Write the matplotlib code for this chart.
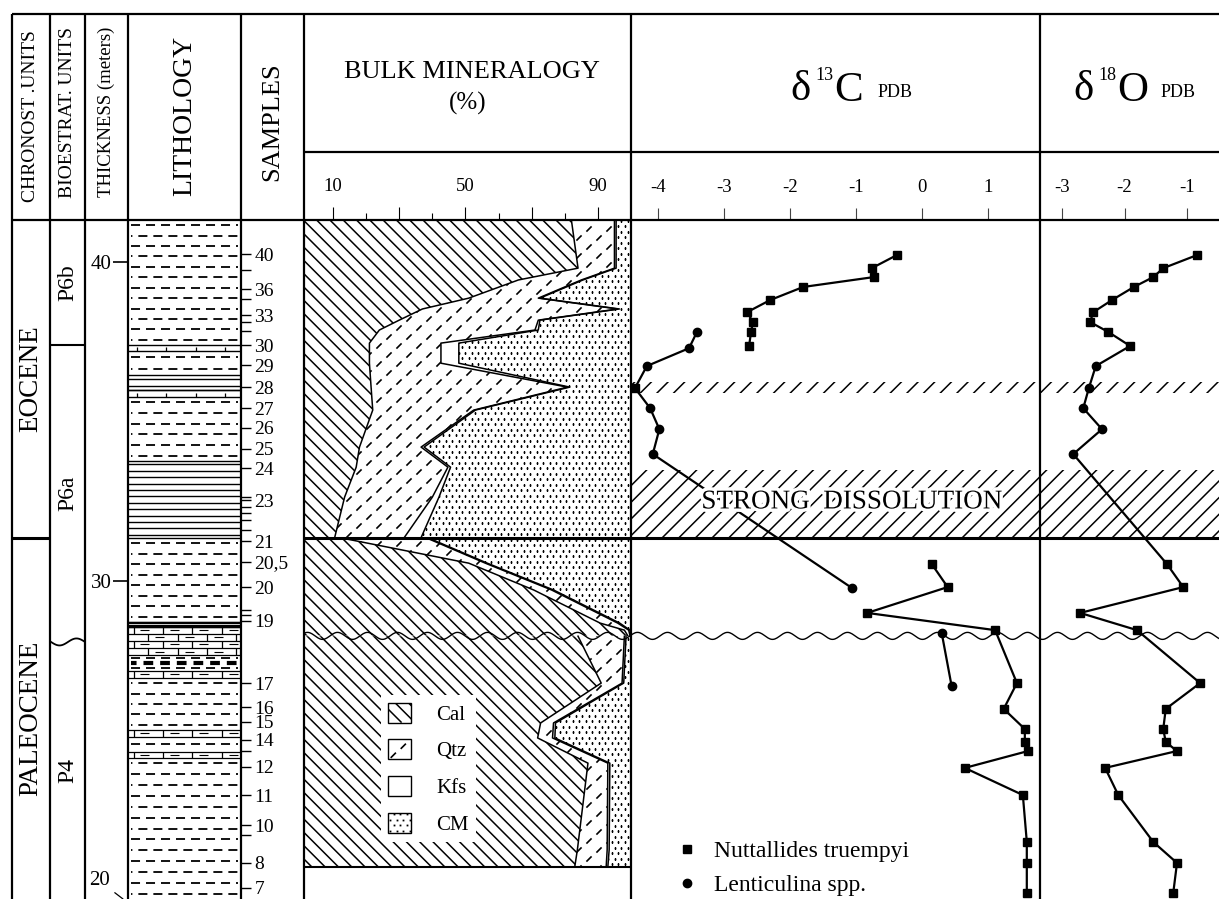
import numpy as np
import matplotlib.pyplot as plt
import matplotlib.patheffects as pe
from matplotlib.collections import LineCollection
from matplotlib.lines import Line2D
from matplotlib.patches import Patch
from matplotlib.path import Path
from matplotlib.transforms import IdentityTransform, blended_transform_factory

plt.rcParams['font.family'] = ['Liberation Serif', 'DejaVu Serif']
plt.rcParams['axes.unicode_minus'] = False
plt.rcParams['lines.scale_dashes'] = False
plt.rcParams['hatch.linewidth'] = 1.1

# depth axis (m): top of log and bottom edge of the sheet
TOP, BOT = 41.32, 20.03
PXM = 31.9  # pixels per metre on the sheet

# units
chron_names = ['EOCENE', 'PALEOCENE']
chron_tops = [41.32, 31.35]
chron_bases = [31.35, 20.03]
bio_names = ['P6b', 'P6a', 'P4']
bio_tops = [41.32, 37.40, 28.09]
bio_bases = [37.40, 28.09, 20.03]
unconformity = 28.28
thick_ticks = [40, 30]

# samples
sample_depth = [40.25, 39.75, 39.15, 38.84, 38.34, 38.12, 37.84, 37.40, 36.77, 36.08,
                35.42, 34.80, 34.14, 33.54, 32.63, 32.54, 32.32, 32.13, 31.91, 31.60,
                31.25, 30.60, 29.81, 29.09, 28.93, 28.75, 26.80, 26.05, 25.58, 25.02,
                24.67, 24.17, 23.29, 22.35, 22.04, 21.16, 20.38]
sample_label = ['40', '', '36', '', '33', '', '', '30', '29', '28',
                '27', '26', '25', '24', '', '23', '', '', '', '',
                '21', '20,5', '20', '', '', '19', '17', '16', '15', '14',
                '', '12', '11', '10', '', '8', '7']

# lithology
lith_top = [41.32, 37.40, 37.21, 36.46, 35.99, 35.77, 33.76, 31.35, 28.72, 28.56,
            27.68, 27.52, 27.34, 27.18, 26.96, 25.33, 25.11, 24.64, 24.45]
lith_base = [37.40, 37.21, 36.46, 35.99, 35.77, 33.76, 31.35, 28.72, 28.56, 27.68,
             27.52, 27.34, 27.18, 26.96, 25.33, 25.11, 24.64, 24.45, 20.03]
lith_type = ['marl', 'lime', 'marl', 'lam', 'lime', 'marl', 'lam', 'marl', 'lam2', 'mlime',
             'marl', 'nod', 'marl', 'mlime', 'marl', 'mlime', 'marl', 'mlime', 'marl']

# bulk mineralogy (%), three stratigraphic segments
bulk_seg = [0] * 15 + [1] * 6 + [2] * 7
bulk_depth = [41.32, 39.81, 39.44, 38.87, 38.53, 38.18, 37.87, 37.46, 36.83, 36.08,
              35.36, 34.20, 33.57, 32.63, 31.36,
              31.33, 30.56, 29.72, 28.68, 28.46, 28.29,
              28.27, 26.80, 25.55, 25.08, 24.29, 21.57, 21.03]
bulk_cal = [82, 84, 66, 51, 37, 30, 24, 21, 21, 21.5, 22, 18, 17, 13.5, 10.5,
            13.5, 51, 70.6, 90.7, 98, 99,
            84, 91, 72.7, 71.8, 87, 83.8, 83]
bulk_qtz = [13, 11, 19, 21, 59, 42, 47, 21.6, 21.6, 59.3, 30.5, 18.6, 27.7, 26.5, 21,
            25.2, 5, 5.4, 5.3, 1.3, 0.7,
            14, 6.3, 3.9, 4.5, 6, 9, 9.5]
bulk_kfs = [0.5, 0.5, 0.5, 0.5, 0.5, 0.5, 1, 5.4, 5.4, 0.7, 0.5, 0.9, 0.8, 2, 5.1,
            0.6, 0.6, 0.6, 0.6, 0.4, 0.3,
            0.5, 0.5, 0.6, 0.7, 0.6, 0.6, 0.5]
bulk_cm = [4.5, 4.5, 14.5, 27.5, 3.5, 27.5, 28, 52, 52, 18.5, 47, 62.5, 54.5, 58, 63.4,
           60.7, 43.4, 23.4, 3.4, 0.3, 0,
           1.5, 2.2, 22.8, 23, 6.4, 6.6, 7]

# stable isotopes (permil PDB)
d13c_nt_eo_depth = [40.22, 39.81, 39.53, 39.22, 38.81, 38.43, 38.12, 37.81, 37.37]
d13c_nt_eo = [-0.38, -0.76, -0.73, -1.80, -2.30, -2.65, -2.56, -2.59, -2.62]
d13c_lent_depth = [37.81, 37.30, 36.74, 36.05, 35.42, 34.76, 33.98, 29.78]
d13c_lent = [-3.41, -3.53, -4.17, -4.35, -4.12, -3.98, -4.08, -1.06]
d13c_lent_mk = ['o', 'o', 'o', 's', 'o', 'o', 'o', 'o']
d13c_nt_pa_depth = [30.53, 29.81, 29.00, 28.46, 26.80, 25.99, 25.36, 24.95, 24.67, 24.14,
                    23.29, 21.82, 21.16, 20.22]
d13c_nt_pa = [0.15, 0.39, -0.83, 1.11, 1.44, 1.24, 1.56, 1.56, 1.61, 0.65,
              1.53, 1.59, 1.59, 1.59]
d13c_lent_pa_depth = [28.37, 26.71]
d13c_lent_pa = [0.30, 0.45]

d18o_depth = [40.22, 39.81, 39.53, 39.22, 38.81, 38.43, 38.12, 37.81, 37.37,
              36.74, 36.05, 35.42, 34.76, 33.98,
              30.53, 29.81, 29.00, 28.46, 26.80, 25.99, 25.36, 24.95, 24.67, 24.14,
              23.29, 21.82, 21.16, 20.22]
d18o_val = [-0.84, -1.38, -1.54, -1.85, -2.20, -2.50, -2.55, -2.26, -1.91,
            -2.46, -2.57, -2.66, -2.36, -2.82,
            -1.32, -1.06, -2.71, -1.80, -0.79, -1.34, -1.38, -1.34, -1.16, -2.31,
            -2.10, -1.54, -1.16, -1.22]
d18o_mk = ['s'] * 9 + ['o'] * 5 + ['s'] * 14

diss_top = [36.24, 33.48]
diss_base = [35.89, 31.35]

# ------------------------------------------------------------------
W, H = 1219, 899
LOG_TOP = 220
fig = plt.figure(figsize=(W / 100, H / 100), dpi=100)


def column(x0, x1):
    ax = fig.add_axes([x0 / W, 0, (x1 - x0) / W, (H - LOG_TOP) / H])
    ax.set_ylim(BOT, TOP)
    ax.set_xticks([])
    ax.set_yticks([])
    for s in ax.spines.values():
        s.set_visible(False)
    return ax


def cal_field(bb, step=13.3, lw=1.1):
    h = bb.height
    xs = np.arange(bb.x0 - h, bb.x1 + step, step)
    segs = [[(x, bb.y1), (x + h, bb.y0)] for x in xs]
    return LineCollection(segs, colors='k', linewidths=lw, transform=IdentityTransform())


def qtz_field(bb, dx=20, dy=9, r=2.6, lw=1.2):
    segs = []
    for j, y in enumerate(np.arange(bb.y0 + 4, bb.y1, dy)):
        for x in np.arange(bb.x0 + 5 + (j % 2) * dx / 2, bb.x1, dx):
            segs.append([(x - r, y - r), (x + r, y + r)])
    return LineCollection(segs, colors='k', linewidths=lw, transform=IdentityTransform())


def cm_field(bb, dx=6.5, dy=5.5):
    xs, ys = [], []
    for j, y in enumerate(np.arange(bb.y0 + 2, bb.y1, dy)):
        x = np.arange(bb.x0 + 2 + (j % 2) * dx / 2, bb.x1, dx)
        xs.extend(x)
        ys.extend([y] * len(x))
    return Line2D(xs, ys, ls='none', marker='s', ms=1.3, mew=0, color='k',
                  transform=IdentityTransform())


def wavy(ax, y, period=30, amp=3.5, lw=1.0):
    bb = ax.bbox
    xpx = np.arange(bb.x0, bb.x1 + 1, 1.0)
    tr = blended_transform_factory(ax.transAxes, ax.transData)
    ax.plot((xpx - bb.x0) / bb.width, y + amp / PXM * np.sin(2 * np.pi * xpx / period),
            color='k', lw=lw, transform=tr, zorder=6)


# ---- chrono / bio units
ax_ch = column(12, 50)
ax_ch.set_xlim(0, 1)
for name, t, b in zip(chron_names, chron_tops, chron_bases):
    ax_ch.text(0.5, (t + b) / 2, name, rotation=90, ha='center', va='center', fontsize=19.5)
ax_ch.axhline(chron_bases[0], color='k', lw=2.2)

ax_bi = column(50, 85)
ax_bi.set_xlim(0, 1)
for name, t, b in zip(bio_names, bio_tops, bio_bases):
    ax_bi.text(0.5, (t + b) / 2, name, rotation=90, ha='center', va='center', fontsize=17)
ax_bi.axhline(bio_bases[0], color='k', lw=1.5)
wavy(ax_bi, bio_bases[1], period=34, amp=3.5, lw=1.3)

# ---- lithology
ax_l = column(128, 241)
ax_l.set_xlim(0, 1)


def rows(top, base, step):
    n = max(1, int(round((top - base) * PXM / step)))
    h = (top - base) / n
    return top - h * (np.arange(n) + 0.5)


k = 0
for top, base, kind in zip(lith_top, lith_base, lith_type):
    if kind in ('marl', 'nod'):
        for y in rows(top, base, 10.6):
            off = 5.5 if k % 2 else 0
            if kind == 'nod':
                ax_l.hlines(y, 0.03, 0.97, colors='k', lw=3, linestyles=[(3, (7, 5))])
            else:
                ax_l.hlines(y, 0.03, 0.97, colors='k', lw=1.3, linestyles=[(off, (6.5, 4.3))])
            k += 1
    elif kind in ('lam', 'lam2'):
        step = 6.5 if kind == 'lam' else 2.5
        ax_l.hlines(rows(top, base, step), 0, 1, colors='k', lw=1.0 if kind == 'lam' else 1.6)
        ax_l.hlines([top, base], 0, 1, colors='k', lw=1.0)
    elif kind == 'lime':
        ax_l.hlines([top, base], 0, 1, colors='k', lw=1.0)
        ax_l.vlines(np.arange(0.08, 1, 0.26), base, base + (top - base) * 0.6, colors='k', lw=0.9)
    elif kind == 'mlime':
        edges = np.linspace(top, base, max(1, int(round((top - base) * PXM / 7.5))) + 1)
        ax_l.hlines(edges, 0, 1, colors='k', lw=0.9)
        for i in range(len(edges) - 1):
            xs = np.arange(0.05 + (i % 2) * 0.13, 1, 0.26)
            ax_l.vlines(xs, edges[i + 1], edges[i], colors='k', lw=0.9)
            ym = np.full(len(xs), (edges[i] + edges[i + 1]) / 2)
            ax_l.hlines(ym, xs + 0.06, xs + 0.14, colors='k', lw=0.8)

ax_l.set_yticks(thick_ticks, labels=[str(t) for t in thick_ticks])
ax_l.tick_params(axis='y', left=True, length=10.8, width=1.2, pad=1, labelsize=15)
ax_l.annotate('20', xy=(-0.044, BOT), xycoords=('axes fraction', 'data'),
              xytext=(-17, 13), textcoords='offset points', ha='center', va='center',
              fontsize=15, arrowprops=dict(arrowstyle='-', lw=0.9, shrinkA=2, shrinkB=0),
              annotation_clip=False)

ax_s = ax_l.twinx()
ax_s.set_ylim(BOT, TOP)
for s in ax_s.spines.values():
    s.set_visible(False)
ax_s.set_yticks(sample_depth, labels=sample_label)
ax_s.tick_params(axis='y', right=True, length=7.2, width=1.0, pad=2.5, labelsize=14)

# ---- bulk mineralogy
ax_b = column(304, 631)
ax_b.set_xlim(1.24, 100)
seg = np.array(bulk_seg)
dep = np.array(bulk_depth)
c1 = np.array(bulk_cal)
c2 = c1 + np.array(bulk_qtz)
c3 = c2 + np.array(bulk_kfs)
c4 = c3 + np.array(bulk_cm)
fills = {'cal': [], 'qtz': [], 'cm': []}
for sg in np.unique(seg):
    i = seg == sg
    d = dep[i]
    fills['cal'].append(ax_b.fill_betweenx(d, 0, c1[i], fc='white', lw=0))
    fills['qtz'].append(ax_b.fill_betweenx(d, c1[i], c2[i], fc='white', lw=0))
    ax_b.fill_betweenx(d, c2[i], c3[i], fc='white', lw=0)
    fills['cm'].append(ax_b.fill_betweenx(d, c3[i], c4[i], fc='white', lw=0))
    for c in (c1, c2, c3):
        ax_b.plot(c[i], d, color='k', lw=1.1, zorder=4)

for name, field in (('cal', cal_field), ('qtz', qtz_field), ('cm', cm_field)):
    art = field(ax_b.bbox)
    art.set_zorder(3)
    ax_b.add_artist(art)
    path = Path.make_compound_path(*[p for pc in fills[name] for p in pc.get_paths()])
    art.set_clip_path(path, ax_b.transData)

ax_b.axhline(dep.min(), color='k', lw=1.5)
ax_b.axhline(chron_bases[0], color='k', lw=2.2, zorder=5)
wavy(ax_b, unconformity)

ax_b.xaxis.set_ticks_position('top')
ax_b.set_xticks([10, 30, 50, 70, 90], labels=['10', '', '50', '', '90'])
ax_b.set_xticks([20, 40, 60, 80], minor=True)
ax_b.tick_params(axis='x', which='major', length=9.4, width=0.8, pad=8.6, labelsize=13.5)
ax_b.tick_params(axis='x', which='minor', length=5, width=0.8)

bulk_leg = ax_b.legend(
    handles=[Patch(fc='white', ec='k', lw=1, label='Cal'),
             Patch(fc='white', ec='k', lw=1, label='Qtz'),
             Patch(fc='white', ec='k', lw=1, label='Kfs'),
             Patch(fc='white', ec='k', lw=1, label='CM')],
    loc='lower left', bbox_to_anchor=(0.2355, 0.084), borderaxespad=0, borderpad=0.35,
    fontsize=15, handlelength=1.1, handleheight=1.1, handletextpad=1.2, labelspacing=0.7,
    fancybox=False, framealpha=1, edgecolor='none')
bulk_leg.set_zorder(8)

# ---- d13C
ax_c = column(631, 1040)
ax_c.set_xlim(-4.41, 1.79)
ax_o = column(1040, W)
ax_o.set_xlim(-3.352, -0.488)
for ax in (ax_c, ax_o):
    for t, b in zip(diss_top, diss_base):
        ax.axhspan(b, t, fc='none', ec='k', hatch='//', lw=0, zorder=1)
    ax.axhline(chron_bases[0], color='k', lw=2.2, zorder=5)
    wavy(ax, unconformity)
    ax.xaxis.set_ticks_position('top')
    ax.tick_params(axis='x', length=8.6, width=0.8, pad=9, labelsize=13.5, color='#444')

mstyle = dict(color='k', ms=6)
ax_c.plot(d13c_nt_eo, d13c_nt_eo_depth, lw=1.6, marker='s', **mstyle, zorder=4)
ax_c.plot(d13c_lent, d13c_lent_depth, lw=1.6, color='k', zorder=4)
for mk in ('o', 's'):
    sel = [m == mk for m in d13c_lent_mk]
    ax_c.plot(np.array(d13c_lent)[sel], np.array(d13c_lent_depth)[sel], ls='none',
              marker=mk, **mstyle, zorder=4)
ax_c.plot(d13c_nt_pa, d13c_nt_pa_depth, lw=1.6, marker='s', **mstyle, zorder=4)
ax_c.plot(d13c_lent_pa, d13c_lent_pa_depth, lw=1.6, marker='o', **mstyle, zorder=4)
ax_c.set_xticks([-4, -3, -2, -1, 0, 1])

ax_c.text(-1.06, 32.48, 'STRONG  DISSOLUTION', ha='center', va='center', fontsize=19.5,
          zorder=7, path_effects=[pe.withStroke(linewidth=5, foreground='white')])

ax_c.legend(handles=[Line2D([], [], ls='none', marker='s', color='k', ms=6,
                            label='Nuttallides truempyi'),
                     Line2D([], [], ls='none', marker='o', color='k', ms=6,
                            label='Lenticulina spp.')],
            loc='lower left', bbox_to_anchor=(0.1076, 0.004), borderaxespad=0, borderpad=0,
            frameon=False, fontsize=17, handlelength=1, handletextpad=0.65, labelspacing=0.55)

# ---- d18O
ax_o.plot(d18o_val, d18o_depth, lw=1.6, color='k', zorder=4)
for mk in ('o', 's'):
    sel = [m == mk for m in d18o_mk]
    ax_o.plot(np.array(d18o_val)[sel], np.array(d18o_depth)[sel], ls='none',
              marker=mk, **mstyle, zorder=4)
ax_o.set_xticks([-3, -2, -1])

# ---- frame and header
ov = fig.add_axes([0, 0, 1, 1], zorder=10)
ov.set_xlim(0, W)
ov.set_ylim(H, 0)
ov.axis('off')
ov.vlines([12, 50, 85, 128, 241, 304, 631, 1040], 14, H, colors='k', lw=1.6)
ov.hlines([14, 220], 12, W, colors='k', lw=1.6)
ov.hlines(152, 304, W, colors='k', lw=1.6)

hdr = dict(rotation=90, ha='center', va='center')
ov.text(31, 116, 'CHRONOST .UNITS', fontsize=14, **hdr)
ov.text(68, 112, 'BIOESTRAT. UNITS', fontsize=14, **hdr)
ov.text(106, 112, 'THICKNESS (meters)', fontsize=13.5, **hdr)
ov.text(185, 116, 'LITHOLOGY', fontsize=20, **hdr)
ov.text(272, 122, 'SAMPLES', fontsize=19, **hdr)
ov.text(472, 72, 'BULK MINERALOGY', fontsize=19, ha='center', va='center')
ov.text(468, 103, '(%)', fontsize=18, ha='center', va='center')

for x0, sup, el in ((790, '13', 'C'), (1073, '18', 'O')):
    ov.text(x0, 100, 'δ', fontsize=31, ha='left', va='baseline')
    ov.text(x0 + 25, 80, sup, fontsize=13, ha='left', va='baseline')
    ov.text(x0 + 44, 101, el, fontsize=31, ha='left', va='baseline')
    ov.text(x0 + 88, 97, 'PDB', fontsize=13, ha='left', va='baseline')

# fill legend boxes with the same textures once the legend is laid out
fig.canvas.draw()
for patch, field in zip(bulk_leg.get_patches(), (cal_field, qtz_field, None, cm_field)):
    if field is None:
        continue
    bb = patch.get_window_extent()
    art = field(bb)
    art.set_clip_box(bb)
    art.set_zorder(20)
    fig.add_artist(art)

fig.savefig('out.png', dpi=100)
